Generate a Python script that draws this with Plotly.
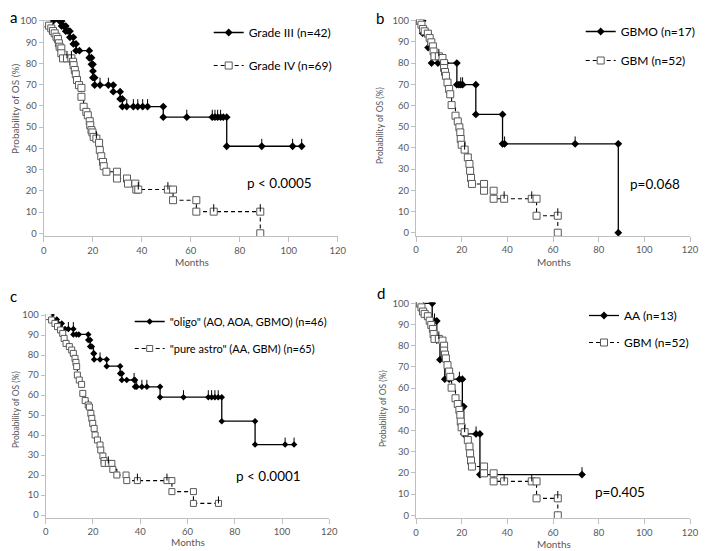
import plotly.graph_objects as go

W, H = 707, 551
OFF = 8  # page body margin the figure sits inside

# ---------------- panel a : Grade III vs Grade IV ----------------
g3_t = [0, 1.3, 2.5, 3.8, 6.5, 7.3, 7.3, 8.2, 9.0, 9.0, 10.0, 10.7, 10.7, 12.1, 12.1,
        13.2, 13.2, 14.6, 18.6, 18.6, 19.5, 19.5, 20.1, 20.1, 20.1, 20.8, 20.8, 23.0,
        26.4, 28.4, 28.4, 31.2, 31.2, 32.1, 32.1, 33.9, 36.6, 38.4, 40.4, 42.4, 48.8,
        48.8, 58.4, 68.8, 69.9, 71.0, 72.2, 73.3, 74.7, 74.7, 89.0, 101.6, 105.3]
g3_s = [100, 100, 100, 100, 100, 100, 97.6, 97.6, 97.6, 95.2, 95.2, 95.2, 92.3, 92.3, 89.2,
        89.2, 86.0, 86.0, 86.0, 82.7, 82.7, 79.6, 79.6, 76.4, 73.3, 73.3, 69.8, 69.8,
        69.8, 69.8, 66.7, 66.7, 63.3, 63.3, 59.7, 59.7, 59.7, 59.7, 59.7, 59.7, 59.7,
        54.7, 54.7, 54.7, 54.7, 54.7, 54.7, 54.7, 54.7, 41.0, 41.0, 41.0, 41.0]
g3_ct = [23.0, 26.4, 33.9, 36.6, 38.4, 40.4, 42.4, 58.4, 68.8, 69.9, 71.0, 72.2, 89.0, 101.6, 105.3]
g3_cs = [69.8, 69.8, 59.7, 59.7, 59.7, 59.7, 59.7, 54.7, 54.7, 54.7, 54.7, 54.7, 41.0, 41.0, 41.0]

g4_t = [0, 1.3, 2.2, 3.1, 3.8, 4.5, 5.2, 5.8, 6.2, 6.5, 7.2, 7.2, 7.9, 9.5, 11.3, 12.0,
        12.2, 12.7, 13.1, 13.6, 14.4, 15.4, 15.4, 16.3, 17.4, 18.0, 18.8, 19.0, 19.5,
        19.9, 20.4, 21.5, 22.6, 22.9, 23.5, 24.2, 24.5, 25.6, 29.9, 29.9, 34.0, 34.4,
        37.4, 37.8, 38.6, 50.7, 52.8, 52.8, 62.3, 62.3, 69.4, 88.4, 88.4]
g4_s = [100, 98.9, 97.8, 96.5, 95.3, 94.2, 92.6, 91.5, 89.5, 87.9, 87.1, 84.8, 82.4, 82.4,
        82.4, 80.8, 79.2, 76.9, 74.9, 72.2, 69.8, 68.5, 64.3, 59.6, 57.2, 55.6, 52.8,
        50.9, 48.6, 47.5, 45.4, 44.6, 42.6, 39.2, 36.3, 33.6, 31.6, 29.0, 29.0, 25.8,
        25.8, 23.4, 23.4, 20.6, 20.6, 20.6, 20.6, 15.6, 15.6, 10.2, 10.2, 10.2, 0]
g4_ct = [9.5, 11.3, 21.5, 38.6, 50.7, 69.4, 88.4]
g4_cs = [82.4, 82.4, 44.6, 20.6, 20.6, 10.2, 10.2]

# ---------------- panel b : GBMO vs GBM ----------------
gbmo_t = [0, 1.0, 2.0, 2.9, 2.9, 4.0, 4.6, 5.3, 5.3, 6.8, 6.8, 9.6, 11.8, 12.9, 17.9,
          17.9, 18.8, 19.6, 20.4, 26.2, 26.2, 37.9, 37.9, 38.8, 69.7, 88.6, 88.6]
gbmo_s = [100, 100, 100, 100, 94.1, 94.1, 94.1, 94.1, 87.3, 87.3, 80.0, 80.0, 80.0, 80.0,
          80.0, 69.8, 69.8, 69.8, 69.8, 69.8, 55.8, 55.8, 41.9, 41.9, 41.9, 41.9, 0]
gbmo_ct = [4.0, 12.9, 19.6, 20.4, 38.8, 69.7]
gbmo_cs = [94.1, 80.0, 69.8, 69.8, 41.9, 41.9]

gbm_t = [0, 1.7, 2.4, 3.1, 3.8, 5.2, 6.0, 6.7, 7.4, 7.7, 8.1, 10.0, 11.6, 12.3, 12.3,
         12.7, 13.1, 13.8, 14.5, 15.0, 15.6, 17.3, 18.3, 19.0, 19.4, 19.6, 20.0, 21.3,
         22.7, 23.4, 23.7, 24.1, 24.5, 29.8, 29.8, 34.0, 34.0, 38.6, 50.7, 52.8, 52.8,
         62.1, 62.1]
gbm_s = [100, 100, 98.1, 96.1, 95.0, 93.9, 91.8, 89.8, 87.9, 85.5, 83.2, 83.2, 82.4, 80.0,
         77.7, 75.8, 74.0, 70.8, 67.8, 65.3, 60.2, 55.2, 52.5, 49.7, 47.3, 44.2, 41.5,
         39.2, 35.5, 32.4, 29.2, 25.8, 23.0, 23.0, 19.8, 19.8, 16.0, 16.0, 16.0, 16.0,
         8.0, 8.0, 0]
gbm_ct = [10.0, 21.3, 38.6, 50.7, 62.1]
gbm_cs = [83.2, 39.2, 16.0, 16.0, 8.0]

# ---------------- panel c : "oligo" vs "pure astro" ----------------
oli_t = [0, 1.2, 2.5, 2.5, 3.2, 4.7, 4.7, 5.3, 6.8, 6.8, 8.2, 9.6, 11.7, 11.7, 13.0,
         14.0, 18.0, 18.0, 18.8, 18.8, 19.5, 20.2, 20.5, 20.5, 23.0, 25.8, 25.8, 31.5,
         31.5, 32.2, 32.2, 34.3, 37.4, 37.8, 37.8, 38.5, 40.7, 42.8, 48.4, 48.4, 58.3,
         68.8, 70.2, 71.6, 73.0, 74.5, 74.5, 88.6, 88.6, 101.3, 105.1]
oli_s = [100, 100, 100, 97.8, 97.8, 97.8, 95.7, 95.7, 95.7, 93.0, 93.0, 93.0, 93.0, 90.3,
         90.3, 90.3, 90.3, 87.5, 87.5, 84.2, 84.2, 80.8, 80.8, 77.8, 77.8, 77.8, 74.4,
         74.4, 70.8, 70.8, 67.5, 67.5, 67.5, 67.5, 64.1, 64.1, 64.1, 64.1, 64.1, 58.9,
         58.9, 58.9, 58.9, 58.9, 58.9, 58.9, 46.9, 46.9, 35.2, 35.2, 35.2]
oli_ct = [9.6, 11.7, 23.0, 37.4, 38.5, 40.7, 42.8, 58.3, 68.8, 70.2, 71.6, 73.0, 101.3, 105.1]
oli_cs = [93.0, 93.0, 77.8, 67.5, 64.1, 64.1, 64.1, 58.9, 58.9, 58.9, 58.9, 58.9, 35.2, 35.2]

ast_t = [0, 1.1, 2.5, 3.9, 5.0, 6.3, 7.2, 7.8, 8.6, 10.0, 11.0, 11.7, 12.4, 12.8, 13.1,
         13.4, 14.2, 15.2, 15.7, 16.7, 18.0, 18.5, 19.1, 19.5, 19.9, 20.5, 20.9, 21.9,
         23.0, 23.3, 24.2, 24.7, 24.7, 26.5, 28.0, 28.4, 30.1, 34.0, 34.3, 38.8, 51.3,
         53.4, 53.4, 62.5, 62.5, 73.1]
ast_s = [100, 99.2, 97.5, 95.8, 94.2, 92.5, 90.8, 88.3, 85.8, 84.2, 82.5, 80.8, 78.3, 76.3,
         74.2, 70.0, 67.5, 65.3, 60.8, 57.2, 55.0, 54.0, 50.8, 48.3, 45.8, 43.3, 40.0,
         37.5, 35.0, 32.5, 29.5, 27.2, 25.8, 25.8, 25.8, 22.8, 20.0, 20.0, 17.2, 17.2,
         17.2, 17.2, 11.7, 11.7, 5.8, 5.8]
ast_ct = [26.5, 38.8, 51.3, 73.1]
ast_cs = [25.8, 17.2, 17.2, 5.8]

# ---------------- panel d : AA vs GBM ----------------
aa_t = [0, 7.1, 7.1, 8.1, 9.1, 9.1, 10.5, 10.5, 12.6, 12.6, 14.5, 19.0, 20.3, 20.3, 20.9,
        20.9, 21.6, 26.3, 28.0, 28.0, 72.7]
aa_s = [100, 100, 91.7, 91.7, 91.7, 82.6, 82.6, 73.4, 73.4, 64.2, 64.2, 64.2, 64.2, 51.3,
        51.3, 38.4, 38.4, 38.4, 38.4, 19.2, 19.2]
aa_ct = [8.1, 14.5, 19.0, 26.3, 72.7]
aa_cs = [91.7, 64.2, 64.2, 38.4, 19.2]

FONT = "Lato"
GREY = "#bfbfbf"
TXT = "#595959"


def px(x):
    return (x - OFF) / W


def py(y):
    return 1 - (y - OFF) / H


fig = go.Figure()


def add_km(t, s, ct, cs, name, ax, legend, solid, msize):
    xa, ya = ax
    if solid:
        line = dict(color="black", width=1.3)
        marker = dict(symbol="diamond", size=msize, color="black")
    else:
        line = dict(color="black", width=1.1, dash="4px,3px")
        marker = dict(symbol="square", size=msize, color="white",
                      line=dict(color="#595959", width=1))
    fig.add_trace(go.Scatter(
        x=t, y=s, name=name, mode="lines+markers", line_shape="hv",
        line=line, marker=marker, xaxis=xa, yaxis=ya,
        legend=legend, legendgroup=legend + name
    ))
    # censored cases drawn as upward ticks
    fig.add_trace(go.Scatter(
        x=ct, y=cs, mode="markers", showlegend=False, hoverinfo="skip",
        marker=dict(size=2, color="rgba(0,0,0,0)"),
        error_y=dict(type="constant", value=3.5, valueminus=0, symmetric=False,
                     width=0, thickness=1, color="black"),
        xaxis=xa, yaxis=ya
    ))


add_km(g3_t, g3_s, g3_ct, g3_cs, "Grade III (n=42)", ("x", "y"), "legend", True, 6)
add_km(g4_t, g4_s, g4_ct, g4_cs, "Grade IV (n=69)", ("x", "y"), "legend", False, 7)
add_km(gbmo_t, gbmo_s, gbmo_ct, gbmo_cs, "GBMO (n=17)", ("x2", "y2"), "legend2", True, 6)
add_km(gbm_t, gbm_s, gbm_ct, gbm_cs, "GBM (n=52)", ("x2", "y2"), "legend2", False, 7)
add_km(oli_t, oli_s, oli_ct, oli_cs, '"oligo" (AO, AOA, GBMO) (n=46)', ("x3", "y3"), "legend3", True, 5)
add_km(ast_t, ast_s, ast_ct, ast_cs, '"pure astro" (AA, GBM) (n=65)', ("x3", "y3"), "legend3", False, 6)
add_km(aa_t, aa_s, aa_ct, aa_cs, "AA (n=13)", ("x4", "y4"), "legend4", True, 6)
add_km(gbm_t, gbm_s, gbm_ct, gbm_cs, "GBM (n=52)", ("x4", "y4"), "legend4", False, 7)

# plot areas in pixels: (x at 0, x at 120, y px at 0, px per %)
panels = [
    (43.7, 337.7, 233.3, 2.123),
    (416.0, 690.0, 232.7, 2.12),
    (45.7, 329.3, 515.0, 2.0),
    (416.0, 690.0, 515.3, 2.12),
]
YMIN, YMAX = -1.5, 100.5
layout = {}
for i, (x0, x1, y0, k) in enumerate(panels):
    sfx = "" if i == 0 else str(i + 1)
    top = y0 - YMAX * k
    bot = y0 - YMIN * k
    layout["xaxis" + sfx] = dict(
        domain=[px(x0), px(x1)], range=[0, 120], dtick=20, anchor="y" + sfx,
        automargin=False,
        showline=True, linecolor=GREY, linewidth=1, ticks="outside", ticklen=5,
        tickcolor=GREY, showgrid=False, zeroline=False,
        tickfont=dict(family=FONT, size=9.5, color=TXT))
    layout["yaxis" + sfx] = dict(
        domain=[py(bot), py(top)], range=[YMIN, YMAX],
        tickvals=list(range(0, 101, 10)), anchor="x" + sfx,
        automargin=False,
        showline=True, linecolor=GREY, linewidth=1, ticks="outside", ticklen=4,
        tickcolor=GREY, showgrid=False, zeroline=False,
        tickfont=dict(family=FONT, size=9.5, color=TXT))
fig.update_layout(**layout)

legend_pos = [("legend", 250.7, 18, 12, 14), ("legend2", 622.7, 17, 12, 10),
              ("legend3", 171.7, 307, 11, 8), ("legend4", 626.0, 301, 12, 8)]
for key, tx, ty, fs, gap in legend_pos:
    fig.update_layout({key: dict(
        x=px(tx - 42), y=py(ty), xanchor="left", yanchor="top",
        bgcolor="rgba(0,0,0,0)", tracegroupgap=gap,
        font=dict(family=FONT, size=fs, color="black"))})

ann = []
for txt, x, y, fs in [("a", 13, 17, 15), ("b", 380, 18, 15), ("c", 13, 296, 15), ("d", 381, 293, 15)]:
    ann.append(dict(text=txt, x=px(x), y=py(y), font=dict(family=FONT, size=fs, color="black")))
for txt, x, y in [("p < 0.0005", 279, 183), ("p=0.068", 655, 184),
                  ("p < 0.0001", 268, 476), ("p=0.405", 620, 492)]:
    ann.append(dict(text=txt, x=px(x), y=py(y), font=dict(family=FONT, size=13.5, color="black")))
for x, y in [(192, 262), (554, 262), (188, 542), (554, 544)]:
    ann.append(dict(text="Months", x=px(x), y=py(y), font=dict(family=FONT, size=10, color=TXT)))
for x, y, fs in [(15, 109, 10), (380, 126, 8.5), (16, 410, 8.5), (383, 409, 8.5)]:
    ann.append(dict(text="Probability of OS (%)", x=px(x), y=py(y), textangle=-90,
                    font=dict(family=FONT, size=fs, color=TXT)))
for a in ann:
    a.update(xref="paper", yref="paper", showarrow=False, xanchor="center", yanchor="middle")

fig.update_layout(
    width=W, height=H, margin=dict(l=0, r=0, t=0, b=0),
    paper_bgcolor="white", plot_bgcolor="white",
    annotations=ann, hovermode="closest",
)

fig.write_html("out.html")
